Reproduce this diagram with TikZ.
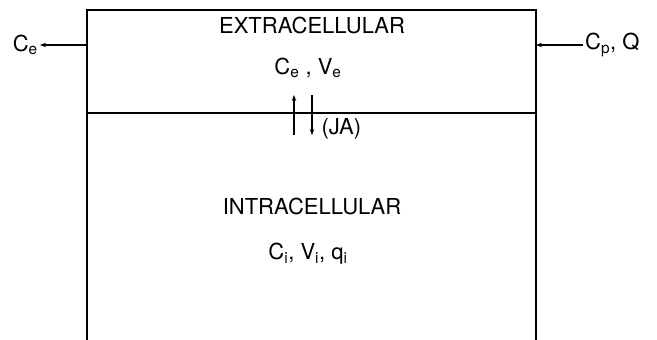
\documentclass[tikz,border=0pt]{standalone}
\usepackage{fontspec}
\setmainfont{TeX Gyre Heros}
\usetikzlibrary{arrows.meta}

\begin{document}
\begin{tikzpicture}[x=1pt,y=-1pt,>={Stealth[length=6pt,width=4.5pt]},
  font=\fontsize{22}{26}\selectfont,
  wall/.style={line width=2.6pt},
  flux/.style={->,line width=1.5pt}]
\useasboundingbox (0,0) rectangle (657,340);
% compartment walls
\coordinate (tl) at (87,10);
\coordinate (tr) at (536,10);
\coordinate (bl) at (87,340);
\coordinate (br) at (536,340);
\coordinate (ml) at (87,113);
\coordinate (mr) at (536,113);
\draw[wall] (bl) -- (tl) -- (tr) -- (br);
\draw[wall] (ml) -- (mr);
% labels
\node (extra) at (312,25) {EXTRACELLULAR};
\node (ceve) at (308,68) {C\textsubscript{e} , V\textsubscript{e}};
\node (intra) at (312,206) {INTRACELLULAR};
\node (civiqi) at (308,254) {C\textsubscript{i}, V\textsubscript{i}, q\textsubscript{i}};
\node[anchor=west] (ja) at (318,129) {(JA)};
\node[anchor=east,inner sep=2pt] (ce) at (40,45) {C\textsubscript{e}};
\node[anchor=west,inner sep=2pt] (cpq) at (583,45) {C\textsubscript{p}, Q};
% flows
\coordinate (lw) at (87,45);
\coordinate (rw) at (536,45);
\draw[flux] (lw) -- (ce.east);
\draw[flux] (cpq.west) -- (rw);
\coordinate (up0) at (294,135);
\coordinate (up1) at (294,95);
\coordinate (dn0) at (312,95);
\coordinate (dn1) at (312,135);
\draw[flux] (up0) -- (up1);
\draw[flux] (dn0) -- (dn1);
\end{tikzpicture}
\end{document}
